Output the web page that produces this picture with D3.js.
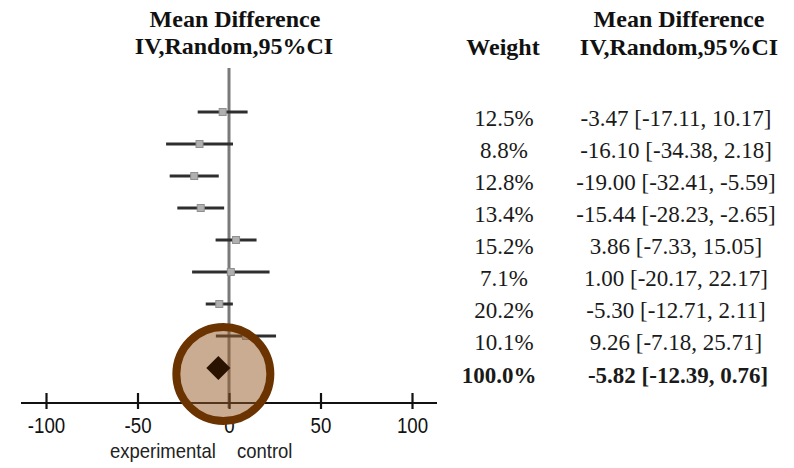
<!DOCTYPE html>
<html>
<head>
<meta charset="utf-8">
<script src="https://cdn.jsdelivr.net/npm/d3@7"></script>
<style>
  html, body { margin: 0; padding: 0; background: #fff; }
  svg { display: block; }
</style>
</head>
<body>
<svg id="chart" width="794" height="468"></svg>
<script>
// Study-level results (mean difference, 95% CI) and weights
const weights   = [12.5, 8.8, 12.8, 13.4, 15.2, 7.1, 20.2, 10.1];
const estimates = [-3.47, -16.10, -19.00, -15.44, 3.86, 1.00, -5.30, 9.26];
const lowers    = [-17.11, -34.38, -32.41, -28.23, -7.33, -20.17, -12.71, -7.18];
const uppers    = [10.17, 2.18, -5.59, -2.65, 15.05, 22.17, 2.11, 25.71];

// Pooled (random effects) estimate
const pooledWeight = 100.0;
const pooled = { est: -5.82, lo: -12.39, hi: 0.76 };

const axisTicks = [-100, -50, 0, 50, 100];
const axisDomain = [-100, 100];

const svg = d3.select("#chart");

const x = d3.scaleLinear().domain(axisDomain).range([46, 412]);
const rowIndex = d3.range(weights.length + 1);
const y = d3.scalePoint().domain(rowIndex).range([112, 368]);

const serif = "'Liberation Serif', 'Times New Roman', serif";
const sans = "'Liberation Sans', Arial, sans-serif";

// Plain hyphen-minus number formatting
const locale = d3.formatLocale({ decimal: ".", thousands: ",", grouping: [3], currency: ["", ""], minus: "-" });
const fmt = locale.format(".2f");
const fmtTick = locale.format("d");

// Column headers
const head = svg.append("g")
  .attr("font-family", serif)
  .attr("font-weight", "bold")
  .attr("font-size", 24)
  .attr("fill", "#111")
  .attr("text-anchor", "middle");
head.append("text").attr("x", 235).attr("y", 27).text("Mean Difference");
head.append("text").attr("x", 234).attr("y", 54).text("IV,Random,95%CI");
head.append("text").attr("x", 679).attr("y", 27).text("Mean Difference");
head.append("text").attr("x", 503).attr("y", 55).text("Weight");
head.append("text").attr("x", 679).attr("y", 55).text("IV,Random,95%CI");

// Line of no effect
svg.append("line")
  .attr("x1", x(0)).attr("x2", x(0))
  .attr("y1", 68).attr("y2", 408)
  .attr("stroke", "#7a7a7a").attr("stroke-width", 3);

// Bottom axis with crossing ticks
const axisY = 403;
const axis = d3.axisBottom(x).tickValues(axisTicks).tickFormat(fmtTick).tickSize(0).tickPadding(0);
const gAxis = svg.append("g").attr("transform", `translate(0,${axisY})`).call(axis);
gAxis.select(".domain").remove();
gAxis.append("line")
  .attr("x1", 21).attr("x2", 437)
  .attr("stroke", "#111").attr("stroke-width", 2.2);
gAxis.selectAll(".tick").append("line")
  .attr("y1", -10).attr("y2", 6)
  .attr("stroke", "#111").attr("stroke-width", 2.2);
gAxis.selectAll(".tick text")
  .attr("font-family", sans)
  .attr("font-size", 22)
  .attr("fill", "#111")
  .attr("dy", 0)
  .attr("y", 30)
  .each(function () {
    const w = this.getComputedTextLength();
    d3.select(this).attr("textLength", w * 0.85).attr("lengthAdjust", "spacingAndGlyphs");
  });

// Favours labels
const favours = svg.append("g")
  .attr("font-family", sans)
  .attr("font-size", 21)
  .attr("fill", "#222");
[["experimental", 110], ["control", 237]].forEach(([t, px]) => {
  const el = favours.append("text").attr("x", px).attr("y", 458).text(t);
  const w = el.node().getComputedTextLength();
  el.attr("textLength", w * 0.88).attr("lengthAdjust", "spacingAndGlyphs");
});

// Confidence interval lines
const studies = weights.map((w, i) => ({ i, w, est: estimates[i], lo: lowers[i], hi: uppers[i] }));
svg.append("g").selectAll("line").data(studies).join("line")
  .attr("x1", d => x(d.lo)).attr("x2", d => x(d.hi))
  .attr("y1", d => y(d.i)).attr("y2", d => y(d.i))
  .attr("stroke", "#2e2e2e").attr("stroke-width", 3);

// Point-estimate squares
svg.append("g").selectAll("rect").data(studies).join("rect")
  .attr("x", d => x(d.est) - 3.5).attr("y", d => y(d.i) - 3.5)
  .attr("width", 7).attr("height", 7)
  .attr("fill", "#b0b0b0").attr("stroke", "#909090").attr("stroke-width", 1);

// Right-hand table: weights and estimates
const ciLabel = (e, l, h) => `${fmt(e)} [${fmt(l)}, ${fmt(h)}]`;
const table = svg.append("g")
  .attr("font-family", serif)
  .attr("font-size", 23)
  .attr("fill", "#1a1a1a")
  .attr("text-anchor", "middle");
table.selectAll("text.w").data(studies).join("text").attr("class", "w")
  .attr("x", 504).attr("y", d => y(d.i) + 14)
  .text(d => d.w.toFixed(1) + "%");
table.selectAll("text.ci").data(studies).join("text").attr("class", "ci")
  .attr("x", 676).attr("y", d => y(d.i) + 14)
  .text(d => ciLabel(d.est, d.lo, d.hi));
const py = y(weights.length);
table.append("text").attr("x", 499).attr("y", py + 15)
  .attr("font-weight", "bold").text(pooledWeight.toFixed(1) + "%");
table.append("text").attr("x", 678).attr("y", py + 15)
  .attr("font-weight", "bold").text(ciLabel(pooled.est, pooled.lo, pooled.hi));

// Highlight ring around the pooled estimate
svg.append("circle")
  .attr("cx", x(pooled.est) + 5).attr("cy", py + 6).attr("r", 47)
  .attr("fill", "rgba(150,90,40,0.5)")
  .attr("stroke", "#6a3300").attr("stroke-width", 8);

// Pooled diamond
svg.append("path")
  .attr("d", `M${x(pooled.lo)},${py} L${x(pooled.est)},${py - 12} L${x(pooled.hi)},${py} L${x(pooled.est)},${py + 12} Z`)
  .attr("fill", "#2a1200");
</script>
</body>
</html>
